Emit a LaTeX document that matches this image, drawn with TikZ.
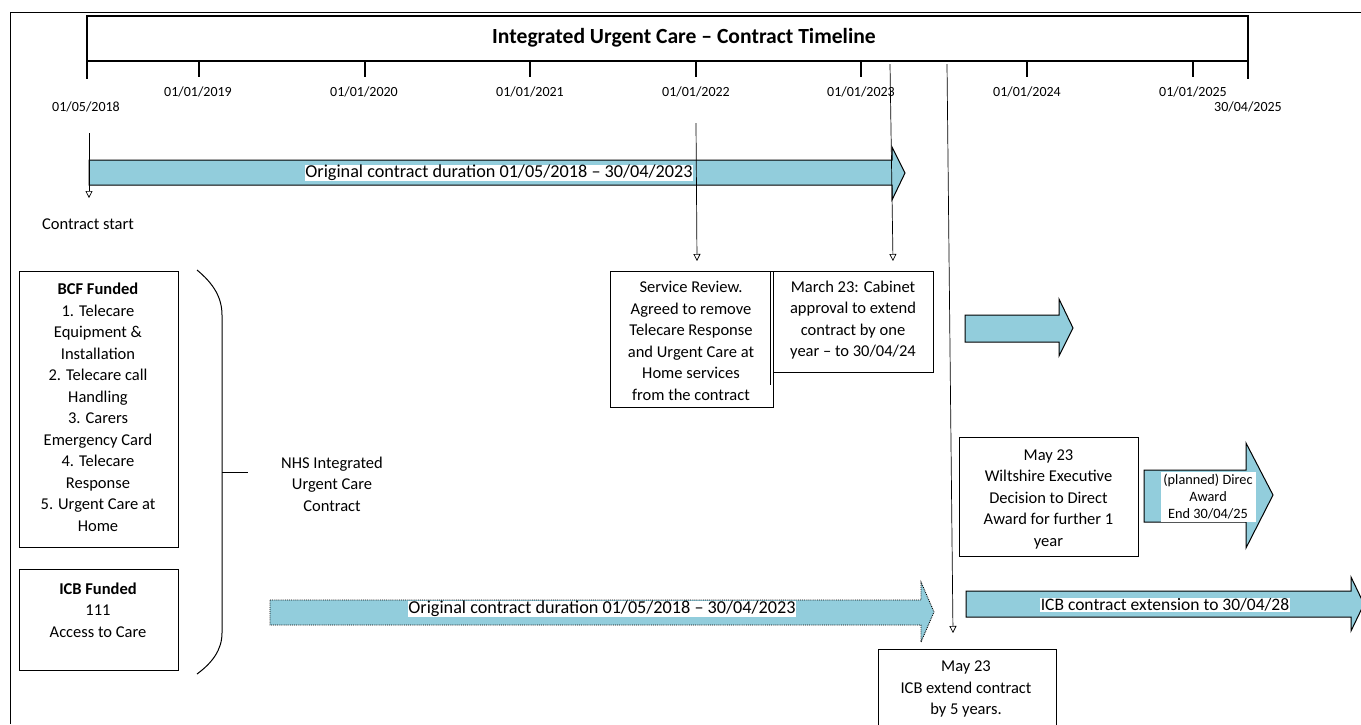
\documentclass[tikz,border=0pt]{standalone}
\usepackage{fontspec}
\setmainfont{Carlito}
\usetikzlibrary{arrows.meta}
\definecolor{arrowblue}{RGB}{146,205,220}
\newcommand{\fsz}[2]{\fontsize{#1}{#2}\selectfont}
\begin{document}
\begin{tikzpicture}[x=1pt,y=-1pt,
  lbl/.style={font=\fsz{14}{17}, inner sep=0pt},
  body/.style={font=\fsz{16.5}{21.5}, align=center, inner sep=0pt},
  boxed/.style={draw=black, line width=1.1pt, inner sep=0pt, anchor=north west},
  conn/.style={line width=0.7pt, -{Triangle[open,length=7pt,width=7pt]}},
  tickline/.style={line width=1.1pt},
  bluearrow/.style={fill=arrowblue, draw=black, line width=1pt, line join=miter},
  tag/.style={fill=white, inner sep=1.5pt, align=center}]
\useasboundingbox (0,0) rectangle (1361,724);
% outer frame
\draw[line width=1pt] (10,724) -- (10,12) -- (1361,12);
% title box
\draw[tickline] (87,16) rectangle (1248,61);
\node[font=\bfseries\fsz{21.6}{25}, inner sep=0pt] (title) at (684,38) {Integrated Urgent Care – Contract Timeline};
% ticks
\draw[tickline] (87,61) -- (87,79);
\draw[tickline] (199,61) -- (199,77);
\draw[tickline] (365,61) -- (365,77);
\draw[tickline] (530,61) -- (530,77);
\draw[tickline] (696,61) -- (696,77);
\draw[tickline] (861,61) -- (861,77);
\draw[tickline] (1027,61) -- (1027,77);
\draw[tickline] (1193,61) -- (1193,77);
\draw[tickline] (1248,61) -- (1248,79);
% date labels
\node[lbl] (d0) at (86,107) {01/05/2018};
\node[lbl] (d1) at (198,92) {01/01/2019};
\node[lbl] (d2) at (364,92) {01/01/2020};
\node[lbl] (d3) at (530,92) {01/01/2021};
\node[lbl] (d4) at (696,92) {01/01/2022};
\node[lbl] (d5) at (861,92) {01/01/2023};
\node[lbl] (d6) at (1027,92) {01/01/2024};
\node[lbl] (d7) at (1193,92) {01/01/2025};
\node[lbl] (d8) at (1248,107) {30/04/2025};
% original contract arrow (top)
\draw[bluearrow] (89,160) -- (892,160) -- (892,147) -- (905,173) -- (892,200) -- (892,185) -- (89,185) -- cycle;
\node[tag, font=\fsz{18.2}{20}, inner sep=0.5pt] (orig1) at (499,173) {Original contract duration 01/05/2018 – 30/04/2023};
% contract start
\node[body] (cstart) at (88,224) {Contract start};
\coordinate (cs0) at (89,133);
\coordinate (cs1) at (89,198);
\draw[conn] (cs0) -- (cs1);
% service review & March boxes
\node[boxed, minimum width=163, minimum height=136] (srbox) at (610,271) {};
\node[body] (srtxt) at (691,341) {Service Review.\\Agreed to remove\\Telecare Response\\and Urgent Care at\\Home services\\from the contract};
\node[boxed, minimum width=160, minimum height=101, fill=white] (mbox) at (773,271) {};
\node[body] (mtxt) at (853,320) {March 23: Cabinet\\approval to extend\\contract by one\\year – to 30/04/24};
\draw[line width=1pt] (770,271) -- (770,385);
% connectors from timeline
\coordinate (c22a) at (696,123);
\coordinate (c22b) at (697,261);
\draw[conn] (c22a) -- (c22b);
\coordinate (c23a) at (890,64);
\coordinate (c23b) at (893,261);
\draw[conn] (c23a) -- (c23b);
\coordinate (c24a) at (947,64);
\coordinate (c24b) at (953,633);
\draw[conn] (c24a) -- (c24b);
% small arrow
\draw[bluearrow] (965,315) -- (1059,315) -- (1059,299) -- (1073,328) -- (1059,356) -- (1059,342) -- (965,342) -- cycle;
% BCF box
\node[boxed, minimum width=159, minimum height=276] (bcfbox) at (19,271) {};
\node[body] (bcftxt) at (98,407.5) {\textbf{BCF Funded}\\1. Telecare\\Equipment \&\\Installation\hspace*{21pt}\\2. Telecare call\\Handling\\3. Carers\\Emergency Card\\4. Telecare\\Response\\5. Urgent Care at\\Home};
% ICB box
\node[boxed, minimum width=159, minimum height=101] (icbbox) at (19,569) {};
\node[body] (icbtxt) at (98,610) {\textbf{ICB Funded}\\111\\Access to Care};
% brace
\draw[line width=1pt] (197,270) .. controls (214,284) and (222,298) .. (222,315) -- (222,633) .. controls (222,650) and (212,663) .. (197,674);
\draw[line width=1pt] (222,472) -- (248,472);
\node[body] (nhs) at (332,484) {NHS Integrated\\Urgent Care\\Contract};
% dotted arrow (bottom)
\draw[fill=arrowblue, draw=black, line width=0.9pt, densely dotted] (270,600) -- (921,600) -- (921,582) -- (934,612) -- (921,642) -- (921,625) -- (270,625) -- cycle;
\node[tag, font=\fsz{18.2}{20}, inner sep=0.5pt] (orig2) at (602,609) {Original contract duration 01/05/2018 – 30/04/2023};
% Wiltshire box
\node[boxed, minimum width=179, minimum height=119] (wbox) at (959,437) {};
\node[body] (wtxt) at (1048.5,499) {May 23\\Wiltshire Executive\\Decision to Direct\\Award for further 1\\year};
% planned arrow
\draw[bluearrow] (1144,470) -- (1246,470) -- (1246,443) -- (1273,495) -- (1246,548) -- (1246,522) -- (1144,522) -- cycle;
\node[fill=white, inner sep=0pt, minimum width=95, minimum height=50, anchor=north west] (ptag) at (1161,472) {};
\node[font=\fsz{14.3}{17}, align=center, inner sep=0pt] (ptxt) at (1208,497) {(planned) Direc\\Award\\End 30/04/25};
% ICB extension arrow
\draw[bluearrow] (966,591) -- (1351,591) -- (1351,577) -- (1364,604) -- (1351,631) -- (1351,617) -- (966,617) -- cycle;
\node[tag, font=\fsz{17.5}{20}, inner sep=1pt] (icbext) at (1165,605) {ICB contract extension to 30/04/28};
% ICB extend box
\node[boxed, minimum width=178, minimum height=100] (iebox) at (878,649) {};
\node[body] (ietxt) at (966,689) {May 23\\ICB extend contract\\by 5 years.};
\end{tikzpicture}
\end{document}
